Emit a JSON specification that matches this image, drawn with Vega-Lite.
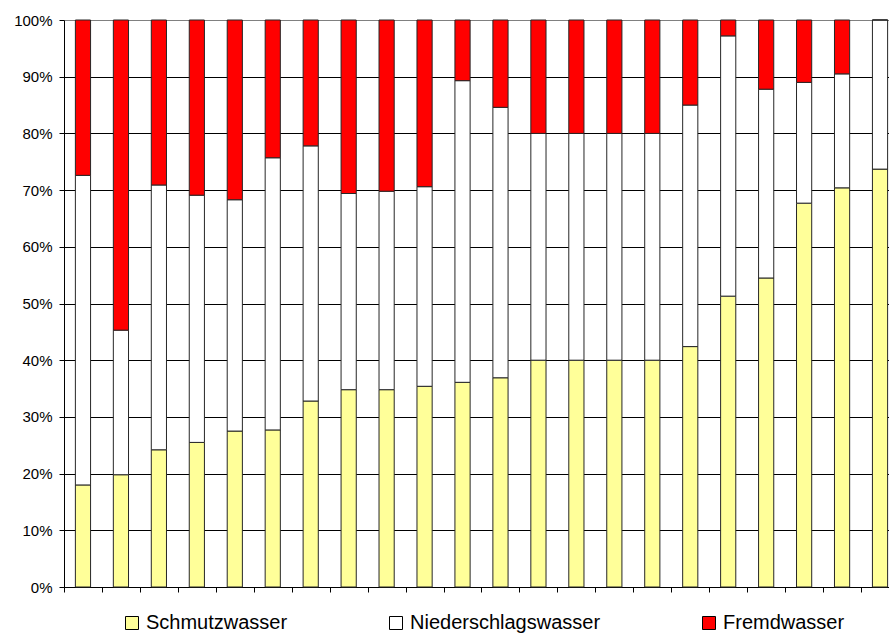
{
  "$schema": "https://vega.github.io/schema/vega-lite/v6.json",
  "width": 825,
  "height": 567,
  "autosize": {"type": "none"},
  "padding": {"left": 64, "top": 20, "right": 0, "bottom": 46},
  "background": "white",
  "config": {"view": {"stroke": null}, "font": "Liberation Sans"},
  "data": {
    "values": [
      {"id": 1, "Schmutzwasser": 18.0, "Niederschlagswasser": 54.6, "Fremdwasser": 27.4},
      {"id": 2, "Schmutzwasser": 19.8, "Niederschlagswasser": 25.5, "Fremdwasser": 54.7},
      {"id": 3, "Schmutzwasser": 24.2, "Niederschlagswasser": 46.7, "Fremdwasser": 29.1},
      {"id": 4, "Schmutzwasser": 25.5, "Niederschlagswasser": 43.6, "Fremdwasser": 30.9},
      {"id": 5, "Schmutzwasser": 27.5, "Niederschlagswasser": 40.8, "Fremdwasser": 31.7},
      {"id": 6, "Schmutzwasser": 27.7, "Niederschlagswasser": 48.0, "Fremdwasser": 24.3},
      {"id": 7, "Schmutzwasser": 32.8, "Niederschlagswasser": 45.0, "Fremdwasser": 22.2},
      {"id": 8, "Schmutzwasser": 34.8, "Niederschlagswasser": 34.6, "Fremdwasser": 30.6},
      {"id": 9, "Schmutzwasser": 34.8, "Niederschlagswasser": 35.0, "Fremdwasser": 30.2},
      {"id": 10, "Schmutzwasser": 35.4, "Niederschlagswasser": 35.2, "Fremdwasser": 29.4},
      {"id": 11, "Schmutzwasser": 36.1, "Niederschlagswasser": 53.2, "Fremdwasser": 10.7},
      {"id": 12, "Schmutzwasser": 36.9, "Niederschlagswasser": 47.7, "Fremdwasser": 15.4},
      {"id": 13, "Schmutzwasser": 40.0, "Niederschlagswasser": 40.0, "Fremdwasser": 20.0},
      {"id": 14, "Schmutzwasser": 40.0, "Niederschlagswasser": 40.0, "Fremdwasser": 20.0},
      {"id": 15, "Schmutzwasser": 40.0, "Niederschlagswasser": 40.0, "Fremdwasser": 20.0},
      {"id": 16, "Schmutzwasser": 40.0, "Niederschlagswasser": 40.0, "Fremdwasser": 20.0},
      {"id": 17, "Schmutzwasser": 42.4, "Niederschlagswasser": 42.6, "Fremdwasser": 15.0},
      {"id": 18, "Schmutzwasser": 51.3, "Niederschlagswasser": 45.9, "Fremdwasser": 2.8},
      {"id": 19, "Schmutzwasser": 54.5, "Niederschlagswasser": 33.3, "Fremdwasser": 12.2},
      {"id": 20, "Schmutzwasser": 67.7, "Niederschlagswasser": 21.3, "Fremdwasser": 11.0},
      {"id": 21, "Schmutzwasser": 70.4, "Niederschlagswasser": 20.1, "Fremdwasser": 9.5},
      {"id": 22, "Schmutzwasser": 73.7, "Niederschlagswasser": 26.3, "Fremdwasser": 0.0}
    ]
  },
  "transform": [
    {"fold": ["Schmutzwasser", "Niederschlagswasser", "Fremdwasser"], "as": ["Anteil", "Wert"]},
    {"calculate": "indexof(['Schmutzwasser','Niederschlagswasser','Fremdwasser'], datum.Anteil)", "as": "o"}
  ],
  "mark": {"type": "bar", "stroke": "#262626", "strokeWidth": 1, "width": {"band": 0.4}},
  "encoding": {
    "x": {
      "field": "id",
      "type": "ordinal",
      "scale": {"paddingInner": 0, "paddingOuter": 0, "range": [0, 835]},
      "axis": {
        "title": null,
        "labels": false,
        "tickBand": "extent",
        "tickSize": 5,
        "tickColor": "#000000",
        "domainColor": "#000000",
        "grid": false
      }
    },
    "y": {
      "field": "Wert",
      "type": "quantitative",
      "stack": "normalize",
      "scale": {"domain": [0, 1]},
      "axis": {
        "title": null,
        "values": [0, 0.1, 0.2, 0.3, 0.4, 0.5, 0.6, 0.7, 0.8, 0.9, 1],
        "format": ".0%",
        "labelFontSize": 15,
        "labelColor": "#000000",
        "labelPadding": 7,
        "tickSize": 5,
        "tickColor": "#000000",
        "domainColor": "#000000",
        "grid": true,
        "gridColor": {"condition": {"test": "datum.value >= 1", "value": "#808080"}, "value": "#000000"},
        "gridWidth": 1
      }
    },
    "color": {
      "field": "Anteil",
      "type": "nominal",
      "scale": {
        "domain": ["Schmutzwasser", "Niederschlagswasser", "Fremdwasser"],
        "range": ["#FFFF99", "#FFFFFF", "#FF0000"]
      },
      "legend": {
        "orient": "none",
        "legendX": 58,
        "legendY": 593,
        "direction": "horizontal",
        "title": null,
        "symbolType": "square",
        "symbolSize": 169,
        "symbolStrokeColor": "#000000",
        "symbolStrokeWidth": 1,
        "labelFontSize": 20,
        "labelLimit": 400,
        "labelColor": "#000000",
        "labelOffset": 4,
        "columnPadding": 98
      }
    },
    "order": {"field": "o", "type": "quantitative"}
  }
}
